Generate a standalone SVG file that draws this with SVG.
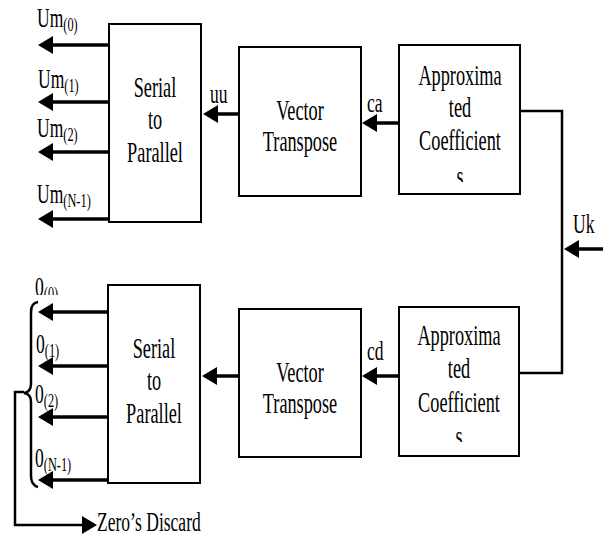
<svg xmlns="http://www.w3.org/2000/svg" width="606" height="538" viewBox="0 0 606 538">
<defs>
<marker id="ah" viewBox="0 0 15 18" refX="4" refY="9" markerWidth="15" markerHeight="18" markerUnits="userSpaceOnUse" orient="auto">
<path d="M0,0 L15,9 L0,18 Z" fill="#000"/>
</marker>
<clipPath id="c1"><rect x="390" y="160" width="140" height="22"/></clipPath>
<clipPath id="c2"><rect x="390" y="420" width="140" height="22"/></clipPath>
<clipPath id="c3"><rect x="20" y="270" width="60" height="25"/></clipPath>
</defs>
<style>
.box{fill:#fff;stroke:#000;stroke-width:2}
.t{font-family:"Liberation Serif","Times New Roman",serif;font-size:29px;fill:#000;text-anchor:middle}
.l{font-family:"Liberation Serif","Times New Roman",serif;font-size:27px;fill:#000}
.s{font-size:19px}
.a{stroke:#000;stroke-width:3.5;fill:none;marker-end:url(#ah)}
.w{stroke:#000;stroke-width:2.5;fill:none}
</style>
<rect width="606" height="538" fill="#fff"/>
<g id="connectors">
<line class="a" x1="109" y1="45" x2="49" y2="45"/>
<line class="a" x1="109" y1="102" x2="49" y2="102"/>
<line class="a" x1="109" y1="152" x2="49" y2="152"/>
<line class="a" x1="109" y1="219" x2="49" y2="219"/>
<line class="a" x1="239" y1="114" x2="214" y2="114"/>
<line class="a" x1="399" y1="123" x2="373" y2="123"/>
<line class="a" x1="399" y1="376" x2="373" y2="376"/>
<line class="a" x1="239" y1="376" x2="213" y2="376"/>
<line class="a" x1="108" y1="312" x2="49" y2="312"/>
<line class="a" x1="108" y1="366" x2="49" y2="366"/>
<line class="a" x1="108" y1="417" x2="49" y2="417"/>
<line class="a" x1="108" y1="480" x2="49" y2="480"/>
<polyline class="w" points="520,111 562,111 562,373 519,373"/>
<line class="a" x1="603" y1="249" x2="575" y2="249"/>
<path class="w" stroke-width="2" d="M38,302 Q31,303 31,312 L31,384 Q31,392 24,393 Q31,394 31,402 L31,476 Q31,485 38,487"/>
<polyline class="w" points="24,392 15,392 15,525 86,525" marker-end="url(#ah)" stroke-width="3"/>
</g>
<g id="labels">
<text class="l" transform="matrix(0.65 0 0 1 37 27)">Um<tspan class="s" dy="4">(0)</tspan></text>
<text class="l" transform="matrix(0.65 0 0 1 38 88)">Um<tspan class="s" dy="4">(1)</tspan></text>
<text class="l" transform="matrix(0.65 0 0 1 37 137)">Um<tspan class="s" dy="4">(2)</tspan></text>
<text class="l" transform="matrix(0.65 0 0 1 37 203)">Um<tspan class="s" dy="4">(N-1)</tspan></text>
<g clip-path="url(#c3)"><text class="l" transform="matrix(0.65 0 0 1 35 296)">0<tspan class="s" dy="4">(0)</tspan></text></g>
<text class="l" transform="matrix(0.65 0 0 1 36 353)">0<tspan class="s" dy="4">(1)</tspan></text>
<text class="l" transform="matrix(0.65 0 0 1 35 403)">0<tspan class="s" dy="4">(2)</tspan></text>
<text class="l" transform="matrix(0.65 0 0 1 35 467)">0<tspan class="s" dy="4">(N-1)</tspan></text>
<text class="l" transform="matrix(0.65 0 0 1 210 103)">uu</text>
<text class="l" transform="matrix(0.65 0 0 1 367 112)">ca</text>
<text class="l" transform="matrix(0.65 0 0 1 367 360)">cd</text>
<text class="l" transform="matrix(0.65 0 0 1 573 233)">Uk</text>
<text class="l" transform="matrix(0.65 0 0 1 97 531)">Zero’s Discard</text>
</g>
<g id="s2p-top">
<rect class="box" x="109" y="24" width="92" height="198"/>
<text class="t" transform="matrix(0.63 0 0 1 155 97)">Serial</text>
<text class="t" transform="matrix(0.63 0 0 1 155 129)">to</text>
<text class="t" transform="matrix(0.63 0 0 1 155 162)">Parallel</text>
</g>
<g id="vt-top">
<rect class="box" x="239" y="47" width="122" height="149"/>
<text class="t" transform="matrix(0.63 0 0 1 300 120)">Vector</text>
<text class="t" transform="matrix(0.63 0 0 1 300 151)">Transpose</text>
</g>
<g id="ac-top">
<rect class="box" x="399" y="45" width="121" height="149"/>
<text class="t" transform="matrix(0.63 0 0 1 460 85)">Approxima</text>
<text class="t" transform="matrix(0.63 0 0 1 460 117)">ted</text>
<text class="t" transform="matrix(0.63 0 0 1 460 150)">Coefficient</text>
<g clip-path="url(#c1)"><text class="t" transform="matrix(0.63 0 0 1 460 186)">s</text></g>
</g>
<g id="s2p-bottom">
<rect class="box" x="108" y="285" width="92" height="198"/>
<text class="t" transform="matrix(0.63 0 0 1 154 358)">Serial</text>
<text class="t" transform="matrix(0.63 0 0 1 154 390)">to</text>
<text class="t" transform="matrix(0.63 0 0 1 154 423)">Parallel</text>
</g>
<g id="vt-bottom">
<rect class="box" x="239" y="309" width="122" height="148"/>
<text class="t" transform="matrix(0.63 0 0 1 300 382)">Vector</text>
<text class="t" transform="matrix(0.63 0 0 1 300 413)">Transpose</text>
</g>
<g id="ac-bottom">
<rect class="box" x="399" y="307" width="120" height="149"/>
<text class="t" transform="matrix(0.63 0 0 1 459 345)">Approxima</text>
<text class="t" transform="matrix(0.63 0 0 1 459 378)">ted</text>
<text class="t" transform="matrix(0.63 0 0 1 459 412)">Coefficient</text>
<g clip-path="url(#c2)"><text class="t" transform="matrix(0.63 0 0 1 459 446)">s</text></g>
</g>
</svg>
